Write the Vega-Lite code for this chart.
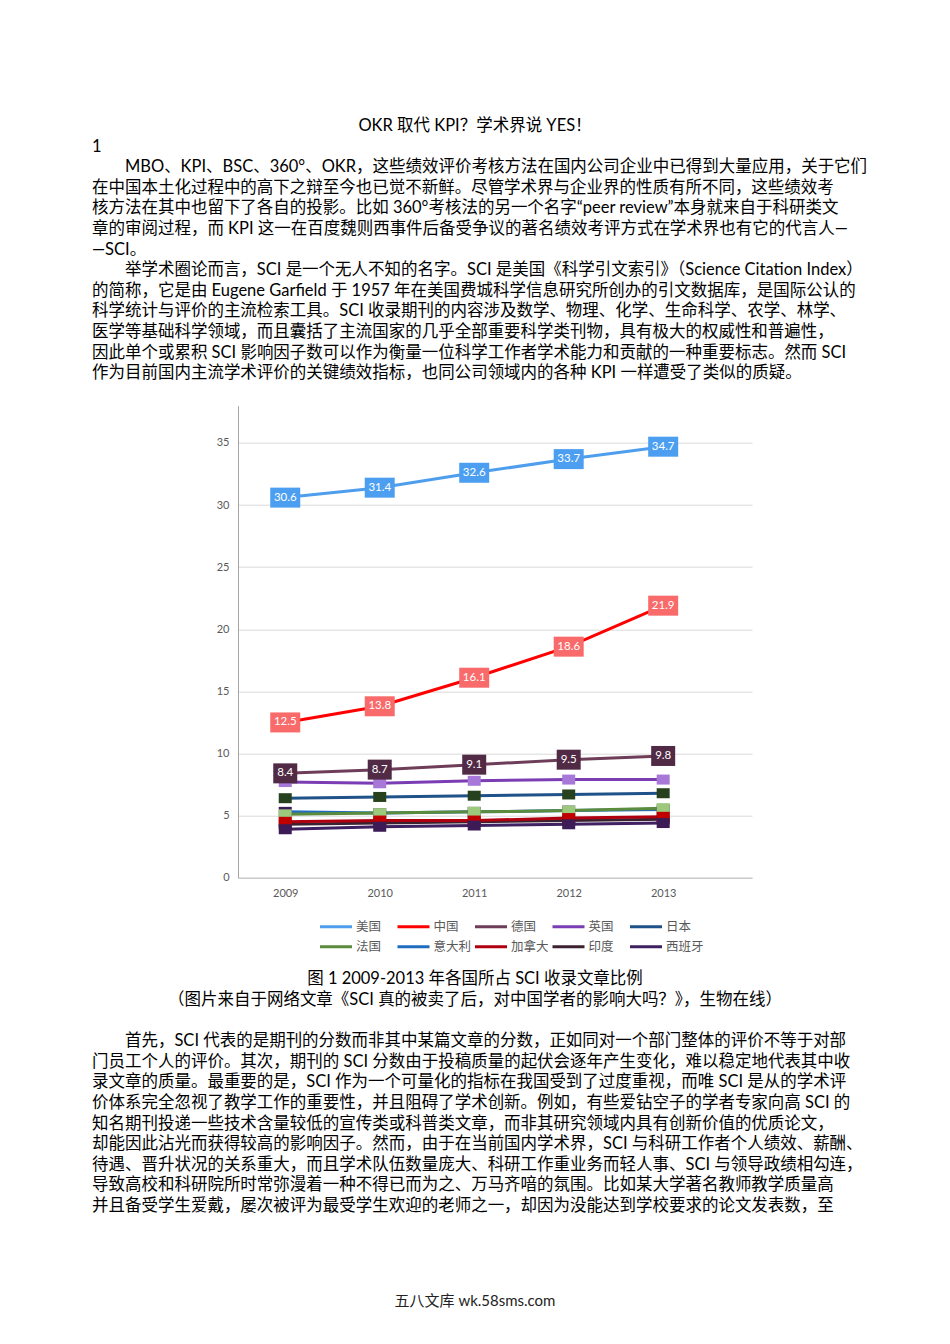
{
  "$schema": "https://vega.github.io/schema/vega-lite/v6.json",
  "background": "white",
  "padding": {"left": 92, "top": 115.7, "right": 0, "bottom": 0},
  "spacing": 0,
  "config": {"view": {"stroke": null}},
  "datasets": {
    "sci": [
      {"country": "美国", "year": 2009, "value": 30.6}, {"country": "美国", "year": 2010, "value": 31.4}, {"country": "美国", "year": 2011, "value": 32.6}, {"country": "美国", "year": 2012, "value": 33.7}, {"country": "美国", "year": 2013, "value": 34.7},
      {"country": "中国", "year": 2009, "value": 12.5}, {"country": "中国", "year": 2010, "value": 13.8}, {"country": "中国", "year": 2011, "value": 16.1}, {"country": "中国", "year": 2012, "value": 18.6}, {"country": "中国", "year": 2013, "value": 21.9},
      {"country": "德国", "year": 2009, "value": 8.4}, {"country": "德国", "year": 2010, "value": 8.7}, {"country": "德国", "year": 2011, "value": 9.1}, {"country": "德国", "year": 2012, "value": 9.5}, {"country": "德国", "year": 2013, "value": 9.8},
      {"country": "英国", "year": 2009, "value": 7.7}, {"country": "英国", "year": 2010, "value": 7.6}, {"country": "英国", "year": 2011, "value": 7.8}, {"country": "英国", "year": 2012, "value": 7.9}, {"country": "英国", "year": 2013, "value": 7.9},
      {"country": "日本", "year": 2009, "value": 6.4}, {"country": "日本", "year": 2010, "value": 6.5}, {"country": "日本", "year": 2011, "value": 6.6}, {"country": "日本", "year": 2012, "value": 6.7}, {"country": "日本", "year": 2013, "value": 6.8},
      {"country": "意大利", "year": 2009, "value": 5.3}, {"country": "意大利", "year": 2010, "value": 5.2}, {"country": "意大利", "year": 2011, "value": 5.3}, {"country": "意大利", "year": 2012, "value": 5.4}, {"country": "意大利", "year": 2013, "value": 5.5},
      {"country": "法国", "year": 2009, "value": 5.1}, {"country": "法国", "year": 2010, "value": 5.2}, {"country": "法国", "year": 2011, "value": 5.3}, {"country": "法国", "year": 2012, "value": 5.4}, {"country": "法国", "year": 2013, "value": 5.6},
      {"country": "印度", "year": 2009, "value": 4.3}, {"country": "印度", "year": 2010, "value": 4.4}, {"country": "印度", "year": 2011, "value": 4.5}, {"country": "印度", "year": 2012, "value": 4.6}, {"country": "印度", "year": 2013, "value": 4.7},
      {"country": "加拿大", "year": 2009, "value": 4.5}, {"country": "加拿大", "year": 2010, "value": 4.6}, {"country": "加拿大", "year": 2011, "value": 4.6}, {"country": "加拿大", "year": 2012, "value": 4.8}, {"country": "加拿大", "year": 2013, "value": 4.9},
      {"country": "西班牙", "year": 2009, "value": 3.9}, {"country": "西班牙", "year": 2010, "value": 4.1}, {"country": "西班牙", "year": 2011, "value": 4.2}, {"country": "西班牙", "year": 2012, "value": 4.3}, {"country": "西班牙", "year": 2013, "value": 4.4}
    ],
    "doc": [
      {"sec": "A", "line": 0, "role": "heading", "text": "OKR 取代 KPI？学术界说 YES！"},
      {"sec": "A", "line": 1, "role": "body", "text": "1"},
      {"sec": "A", "line": 2, "role": "body", "text": "\u200b\u3000\u3000MBO、KPI、BSC、360°、OKR，这些绩效评价考核方法在国内公司企业中已得到大量应用，关于它们"},
      {"sec": "A", "line": 3, "role": "body", "text": "在中国本土化过程中的高下之辩至今也已觉不新鲜。尽管学术界与企业界的性质有所不同，这些绩效考"},
      {"sec": "A", "line": 4, "role": "body", "text": "核方法在其中也留下了各自的投影。比如 360°考核法的另一个名字“peer review”本身就来自于科研类文"},
      {"sec": "A", "line": 5, "role": "body", "text": "章的审阅过程，而 KPI 这一在百度魏则西事件后备受争议的著名绩效考评方式在学术界也有它的代言人—"},
      {"sec": "A", "line": 6, "role": "body", "text": "—SCI。"},
      {"sec": "A", "line": 7, "role": "body", "text": "\u200b\u3000\u3000举学术圈论而言，SCI 是一个无人不知的名字。SCI 是美国《科学引文索引》（Science Citation Index）"},
      {"sec": "A", "line": 8, "role": "body", "text": "的简称，它是由 Eugene Garfield 于 1957 年在美国费城科学信息研究所创办的引文数据库，是国际公认的"},
      {"sec": "A", "line": 9, "role": "body", "text": "科学统计与评价的主流检索工具。SCI 收录期刊的内容涉及数学、物理、化学、生命科学、农学、林学、"},
      {"sec": "A", "line": 10, "role": "body", "text": "医学等基础科学领域，而且囊括了主流国家的几乎全部重要科学类刊物，具有极大的权威性和普遍性，"},
      {"sec": "A", "line": 11, "role": "body", "text": "因此单个或累积 SCI 影响因子数可以作为衡量一位科学工作者学术能力和贡献的一种重要标志。然而 SCI"},
      {"sec": "A", "line": 12, "role": "body", "text": "作为目前国内主流学术评价的关键绩效指标，也同公司领域内的各种 KPI 一样遭受了类似的质疑。"},
      {"sec": "C", "line": 0, "role": "caption", "text": "图 1 2009-2013 年各国所占 SCI 收录文章比例"},
      {"sec": "C", "line": 1, "role": "caption", "text": "（图片来自于网络文章《SCI 真的被卖了后，对中国学者的影响大吗？》，生物在线）"},
      {"sec": "C", "line": 3, "role": "body", "text": "\u200b\u3000\u3000首先，SCI 代表的是期刊的分数而非其中某篇文章的分数，正如同对一个部门整体的评价不等于对部"},
      {"sec": "C", "line": 4, "role": "body", "text": "门员工个人的评价。其次，期刊的 SCI 分数由于投稿质量的起伏会逐年产生变化，难以稳定地代表其中收"},
      {"sec": "C", "line": 5, "role": "body", "text": "录文章的质量。最重要的是，SCI 作为一个可量化的指标在我国受到了过度重视，而唯 SCI 是从的学术评"},
      {"sec": "C", "line": 6, "role": "body", "text": "价体系完全忽视了教学工作的重要性，并且阻碍了学术创新。例如，有些爱钻空子的学者专家向高 SCI 的"},
      {"sec": "C", "line": 7, "role": "body", "text": "知名期刊投递一些技术含量较低的宣传类或科普类文章，而非其研究领域内具有创新价值的优质论文，"},
      {"sec": "C", "line": 8, "role": "body", "text": "却能因此沾光而获得较高的影响因子。然而，由于在当前国内学术界，SCI 与科研工作者个人绩效、薪酬、"},
      {"sec": "C", "line": 9, "role": "body", "text": "待遇、晋升状况的关系重大，而且学术队伍数量庞大、科研工作重业务而轻人事、SCI 与领导政绩相勾连，"},
      {"sec": "C", "line": 10, "role": "body", "text": "导致高校和科研院所时常弥漫着一种不得已而为之、万马齐喑的氛围。比如某大学著名教师教学质量高"},
      {"sec": "C", "line": 11, "role": "body", "text": "并且备受学生爱戴，屡次被评为最受学生欢迎的老师之一，却因为没能达到学校要求的论文发表数，至"},
      {"sec": "D", "line": 0, "role": "footer", "text": "五八文库 wk.58sms.com"}
    ]
  },
  "vconcat": [
    {
      "width": 514,
      "height": 289.2,
      "data": {"name": "doc"},
      "transform": [{"filter": "datum.sec === 'A'"}],
      "encoding": {
        "y": {"field": "line", "type": "quantitative", "scale": {"domain": [-0.5, 13.54], "reverse": true, "nice": false, "zero": false}, "axis": null},
        "text": {"field": "text", "type": "nominal"}
      },
      "layer": [
        {
          "transform": [{"filter": "datum.role === 'body'"}],
          "mark": {"type": "text", "align": "left", "baseline": "middle", "fontSize": 16.5, "font": "Lato, Noto Sans CJK SC", "color": "#000000"},
          "encoding": {"x": {"datum": 0, "type": "quantitative", "scale": {"domain": [0, 1], "range": [-146, 620]}, "axis": null}}
        },
        {
          "transform": [{"filter": "datum.role !== 'body'"}],
          "mark": {"type": "text", "align": "center", "baseline": "middle", "fontSize": 16.5, "font": "Lato, Noto Sans CJK SC", "color": "#000000"},
          "encoding": {"x": {"datum": 0.5, "type": "quantitative", "scale": {"domain": [0, 1], "range": [-146, 620]}, "axis": null}}
        }
      ]
    },
    {
      "width": 514,
      "height": 472,
      "data": {"name": "sci"},
      "encoding": {
        "x": {"field": "year", "type": "quantitative", "scale": {"domain": [2008.5, 2013.94], "nice": false, "zero": false},
          "axis": {"values": [2009, 2010, 2011, 2012, 2013], "format": "d", "grid": false, "ticks": false, "domainColor": "#bfbfbf", "labelColor": "#595959", "labelFontSize": 11, "labelFont": "Lato", "labelPadding": 10, "title": null}},
        "y": {"field": "value", "type": "quantitative", "scale": {"domain": [0, 38], "nice": false},
          "axis": {"values": [0, 5, 10, 15, 20, 25, 30, 35], "grid": true, "gridColor": "#d9d9d9", "ticks": false, "domainColor": "#a6a6a6", "labelColor": "#595959", "labelFontSize": 11, "labelFont": "Lato", "labelPadding": 9, "title": null}}
      },
      "layer": [
        {
          "mark": {"type": "line", "strokeWidth": 3},
          "encoding": {
            "stroke": {"field": "country", "type": "nominal",
              "scale": {"domain": ["美国", "中国", "德国", "英国", "日本", "法国", "意大利", "加拿大", "印度", "西班牙"],
                "range": ["#4e9eed", "#ff0000", "#6e3d58", "#7b3db3", "#1f5288", "#5b8b3d", "#1f6cc0", "#b00010", "#3b2231", "#3f2060"]},
              "legend": {"title": null, "orient": "none", "legendX": 91.5, "legendY": 804.5, "direction": "horizontal", "columns": 5, "symbolType": "M-3.2,0H3.2", "symbolSize": 100, "symbolStrokeWidth": 3, "labelFontSize": 12.5, "labelColor": "#595959", "labelFont": "Noto Sans CJK SC", "labelOffset": 13.5, "columnPadding": -3.5, "rowPadding": 7, "gridAlign": "all"}}
          }
        },
        {
          "transform": [{"filter": {"not": {"field": "country", "oneOf": ["美国", "中国", "德国"]}}}],
          "mark": {"type": "point", "shape": "M-1.3,-1H1.3V1H-1.3Z", "size": 100, "filled": true, "opacity": 1},
          "encoding": {
            "fill": {"field": "country", "type": "nominal",
              "scale": {"domain": ["美国", "中国", "德国", "英国", "日本", "法国", "意大利", "加拿大", "印度", "西班牙"],
                "range": ["#4c9ff0", "#f96b6b", "#512a45", "#a878d8", "#27411f", "#9cc97c", "#3c1b57", "#c00000", "#3a1f33", "#3c1b57"]},
              "legend": null}
          }
        },
        {
          "transform": [{"filter": {"field": "country", "oneOf": ["美国", "中国"]}}],
          "mark": {"type": "point", "shape": "M-1.5,-1H1.5V1H-1.5Z", "size": 400, "filled": true, "opacity": 1},
          "encoding": {"fill": {"field": "country", "type": "nominal", "legend": null}}
        },
        {
          "transform": [{"filter": {"field": "country", "equal": "德国"}}],
          "mark": {"type": "point", "shape": "M-1.2,-1H1.2V1H-1.2Z", "size": 400, "filled": true, "opacity": 1},
          "encoding": {"fill": {"field": "country", "type": "nominal", "legend": null}}
        },
        {
          "transform": [{"filter": {"field": "country", "oneOf": ["美国", "中国", "德国"]}}],
          "mark": {"type": "text", "color": "#ffffff", "fontSize": 11.5, "font": "Lato", "baseline": "middle"},
          "encoding": {"text": {"field": "value", "type": "quantitative", "format": ".1f"}}
        }
      ]
    },
    {
      "width": 514,
      "height": 317.7,
      "data": {"name": "doc"},
      "transform": [{"filter": "datum.sec === 'C'"}],
      "encoding": {
        "y": {"field": "line", "type": "quantitative", "scale": {"domain": [-3.92, 11.5], "reverse": true, "nice": false, "zero": false}, "axis": null},
        "text": {"field": "text", "type": "nominal"}
      },
      "layer": [
        {
          "transform": [{"filter": "datum.role === 'body'"}],
          "mark": {"type": "text", "align": "left", "baseline": "middle", "fontSize": 16.5, "font": "Lato, Noto Sans CJK SC", "color": "#000000"},
          "encoding": {"x": {"datum": 0, "type": "quantitative", "scale": {"domain": [0, 1], "range": [-146, 620]}, "axis": null}}
        },
        {
          "transform": [{"filter": "datum.role !== 'body'"}],
          "mark": {"type": "text", "align": "center", "baseline": "middle", "fontSize": 16.5, "font": "Lato, Noto Sans CJK SC", "color": "#000000"},
          "encoding": {"x": {"datum": 0.5, "type": "quantitative", "scale": {"domain": [0, 1], "range": [-146, 620]}, "axis": null}}
        }
      ]
    },
    {
      "width": 514,
      "height": 96.4,
      "data": {"name": "doc"},
      "transform": [{"filter": "datum.sec === 'D'"}],
      "mark": {"type": "text", "align": "center", "baseline": "middle", "fontSize": 15, "font": "Lato, Noto Sans CJK SC", "color": "#222222"},
      "encoding": {
        "y": {"field": "line", "type": "quantitative", "scale": {"domain": [-4.0, 0.6], "reverse": true, "nice": false, "zero": false}, "axis": null},
        "x": {"datum": 0.5, "type": "quantitative", "scale": {"domain": [0, 1], "range": [-146, 620]}, "axis": null},
        "text": {"field": "text", "type": "nominal"}
      }
    }
  ]
}
